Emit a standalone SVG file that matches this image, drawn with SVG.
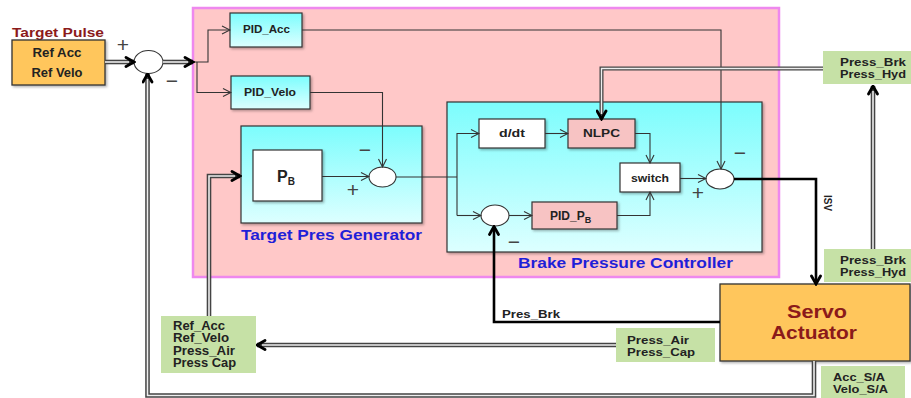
<svg xmlns="http://www.w3.org/2000/svg" width="911" height="398" viewBox="0 0 911 398">
<defs>
<linearGradient id="cyan" x1="0" y1="0" x2="0" y2="1">
<stop offset="0" stop-color="#7CFDFD"/>
<stop offset="1" stop-color="#DDFFFF"/>
</linearGradient>
<filter id="sh" x="-10%" y="-10%" width="130%" height="130%">
<feDropShadow dx="1.5" dy="1.5" stdDeviation="1" flood-color="#000" flood-opacity="0.3"/>
</filter>
<marker id="ah" viewBox="0 0 12 12" refX="10.5" refY="6" markerWidth="12" markerHeight="12" markerUnits="userSpaceOnUse" orient="auto">
<path d="M2.5,1.5 L10.5,6 L2.5,10.5" fill="none" stroke="#000" stroke-width="2.8" stroke-linecap="round"/>
</marker>
<marker id="at" viewBox="0 0 10 10" refX="9" refY="5" markerWidth="10" markerHeight="10" markerUnits="userSpaceOnUse" orient="auto">
<path d="M1,1 L9,5 L1,9" fill="none" stroke="#333" stroke-width="1.1"/>
</marker>
</defs>
<style>
text{font-family:"Liberation Sans",Arial,sans-serif;font-weight:bold;fill:#222}
.sm{font-size:11px}
.lb{font-size:12px}
.blue{font-size:15px;fill:#1F1FD8}
.red{fill:#8B1A1A}
.sign{font-weight:normal;font-size:21px;fill:#444;text-anchor:middle;dominant-baseline:central}
.mid{text-anchor:middle}
.cyan{fill:url(#cyan);stroke:#333;stroke-width:1.2}
.wht{fill:#fff;stroke:#333;stroke-width:1.2}
.pnk{fill:#F7C3C3;stroke:#333;stroke-width:1.2}
.grn{fill:#C6E1A6}
.org{fill:#FFC65C;stroke:#333;stroke-width:1.3}
.sum{fill:#fff;stroke:#333;stroke-width:1.1}
.thin{fill:none;stroke:#333;stroke-width:1.1}
.thick{fill:none;stroke:#000;stroke-width:2.6}
.dbo{fill:none;stroke:#444;stroke-width:4.6}
.dbi{fill:none;stroke:#EEE;stroke-width:1.6}
</style>

<g id="outer-box">
<rect x="193" y="8" width="586" height="269" fill="#FFC8C8" stroke="#EE88EE" stroke-width="2.5"/>
</g>

<g id="target-pulse">
<text x="12" y="36.5" font-size="13" class="red" textLength="92" lengthAdjust="spacingAndGlyphs">Target Pulse</text>
<rect x="12" y="40" width="93" height="45" class="org" filter="url(#sh)"/>
<text x="57" y="56.5" class="lb mid" textLength="49" lengthAdjust="spacingAndGlyphs">Ref Acc</text>
<text x="57" y="77" class="lb mid" textLength="51" lengthAdjust="spacingAndGlyphs">Ref Velo</text>
</g>

<g id="sum1">
<ellipse cx="148.5" cy="62" rx="14.5" ry="11.5" class="sum"/>
<text x="123" y="44" class="sign">+</text>
<text x="172" y="80" class="sign">−</text>
</g>

<g id="pid-acc">
<rect x="230" y="13" width="72" height="34" class="cyan" filter="url(#sh)"/>
<text x="266.5" y="33" class="sm mid" textLength="47" lengthAdjust="spacingAndGlyphs">PID_Acc</text>
</g>

<g id="pid-velo">
<rect x="231" y="76" width="79" height="33" class="cyan" filter="url(#sh)"/>
<text x="270" y="96" class="sm mid" textLength="52" lengthAdjust="spacingAndGlyphs">PID_Velo</text>
</g>

<g id="target-pres-generator">
<rect x="241" y="126" width="181" height="97" class="cyan" filter="url(#sh)"/>
<text x="241" y="240" class="blue" textLength="181" lengthAdjust="spacingAndGlyphs">Target Pres Generator</text>
</g>

<g id="pb">
<rect x="253" y="150" width="69" height="51" class="wht" filter="url(#sh)"/>
<text x="277" y="182" font-size="16">P<tspan font-size="10" dy="3">B</tspan></text>
</g>

<g id="sum2">
<ellipse cx="382.5" cy="177" rx="13.5" ry="10" class="sum"/>
<text x="353" y="189" class="sign">+</text>
<text x="365" y="149" class="sign">−</text>
</g>

<g id="brake-pressure-controller">
<rect x="447" y="102" width="315" height="150" class="cyan" filter="url(#sh)"/>
<text x="518" y="268" class="blue" textLength="215" lengthAdjust="spacingAndGlyphs">Brake Pressure Controller</text>
</g>

<g id="ddt">
<rect x="479" y="119" width="66" height="29" class="wht" filter="url(#sh)"/>
<text x="512" y="137" class="sm mid" textLength="26" lengthAdjust="spacingAndGlyphs">d/dt</text>
</g>

<g id="nlpc">
<rect x="568" y="119" width="67" height="29" class="pnk" filter="url(#sh)"/>
<text x="601.5" y="137" class="sm mid" textLength="37" lengthAdjust="spacingAndGlyphs">NLPC</text>
</g>

<g id="switch">
<rect x="620" y="163" width="60" height="29" class="wht" filter="url(#sh)"/>
<text x="650" y="182" class="sm mid" textLength="38" lengthAdjust="spacingAndGlyphs">switch</text>
</g>

<g id="pid-pb">
<rect x="532" y="202" width="85" height="27" class="pnk" filter="url(#sh)"/>
<text x="550" y="220" font-size="12">PID_P<tspan font-size="9" dy="3">B</tspan></text>
</g>

<g id="sum3">
<ellipse cx="495" cy="215.5" rx="14" ry="10.5" class="sum"/>
<text x="514" y="241" class="sign">−</text>
</g>

<g id="sum4">
<ellipse cx="720" cy="179" rx="14" ry="10" class="sum"/>
<text x="740" y="152" class="sign">−</text>
<text x="698" y="192" class="sign">+</text>
</g>

<g id="press-brk-hyd-top">
<rect x="823" y="51" width="88" height="33" class="grn"/>
<text x="840" y="66" class="sm" textLength="66" lengthAdjust="spacingAndGlyphs">Press_Brk</text>
<text x="840" y="77.5" class="sm" textLength="66" lengthAdjust="spacingAndGlyphs">Press_Hyd</text>
</g>

<g id="press-brk-hyd-bottom">
<rect x="824" y="249" width="87" height="33" class="grn"/>
<text x="840" y="264" class="sm" textLength="66" lengthAdjust="spacingAndGlyphs">Press_Brk</text>
<text x="840" y="276" class="sm" textLength="66" lengthAdjust="spacingAndGlyphs">Press_Hyd</text>
</g>

<g id="servo-actuator">
<rect x="720" y="284" width="190" height="77" class="org" filter="url(#sh)"/>
<text x="817" y="318" font-size="18" class="red mid" textLength="60" lengthAdjust="spacingAndGlyphs">Servo</text>
<text x="814" y="339" font-size="18" class="red mid" textLength="86" lengthAdjust="spacingAndGlyphs">Actuator</text>
</g>

<g id="acc-velo-sa">
<rect x="821" y="366" width="84" height="32" class="grn"/>
<text x="833" y="381" class="sm" textLength="52" lengthAdjust="spacingAndGlyphs">Acc_S/A</text>
<text x="833" y="393" class="sm" textLength="55" lengthAdjust="spacingAndGlyphs">Velo_S/A</text>
</g>

<g id="press-air-cap">
<rect x="616" y="328" width="99" height="34" class="grn"/>
<text x="627" y="344" class="sm" textLength="62" lengthAdjust="spacingAndGlyphs">Press_Air</text>
<text x="627" y="356" class="sm" textLength="68" lengthAdjust="spacingAndGlyphs">Press_Cap</text>
</g>

<g id="ref-inputs">
<rect x="161" y="316" width="95" height="57" class="grn"/>
<text x="173" y="329.5" class="lb" textLength="52" lengthAdjust="spacingAndGlyphs">Ref_Acc</text>
<text x="173" y="342" class="lb" textLength="56" lengthAdjust="spacingAndGlyphs">Ref_Velo</text>
<text x="173" y="354.5" class="lb" textLength="62" lengthAdjust="spacingAndGlyphs">Press_Air</text>
<text x="173" y="367" class="lb" textLength="63" lengthAdjust="spacingAndGlyphs">Press Cap</text>
</g>

<g id="connectors">
<path class="thin" d="M193,62 H208 V30 H230" marker-end="url(#at)"/>
<path class="thin" d="M197,62 V92.5 H231" marker-end="url(#at)"/>
<path class="thin" d="M302,30 H721 V169" marker-end="url(#at)"/>
<path class="thin" d="M310,92.5 H382.5 V167" marker-end="url(#at)"/>
<path class="thin" d="M322,176.5 H369" marker-end="url(#at)"/>
<path class="thin" d="M396,177 H457"/>
<path class="thin" d="M457,215.5 V133.5 H479" marker-end="url(#at)"/>
<path class="thin" d="M457,215.5 H481" marker-end="url(#at)"/>
<path class="thin" d="M545,133.5 H568" marker-end="url(#at)"/>
<path class="thin" d="M635,133.5 H650 V163" marker-end="url(#at)"/>
<path class="thin" d="M509,215.5 H532" marker-end="url(#at)"/>
<path class="thin" d="M617,215.5 H650 V192" marker-end="url(#at)"/>
<path class="thin" d="M680,178.5 H706" marker-end="url(#at)"/>

<path class="thick" d="M734,179 H816 V284" marker-end="url(#ah)"/>
<text x="827" y="203" font-size="10" class="mid" dominant-baseline="central" transform="rotate(90 827 203)">ISV</text>
<path class="thick" d="M720,322 H494 V226.5" marker-end="url(#ah)"/>
<text x="502" y="318" class="sm" textLength="58" lengthAdjust="spacingAndGlyphs">Pres_Brk</text>

<path class="dbo" d="M105,62 H134" marker-end="url(#ah)"/>
<path class="dbi" d="M105,62 H129"/>
<path class="dbo" d="M163,62 H193" marker-end="url(#ah)"/>
<path class="dbi" d="M163,62 H188"/>
<path class="dbo" d="M823,68.5 H601.5 V119" marker-end="url(#ah)" style="stroke-width:4"/>
<path class="dbi" d="M823,68.5 H601.5 V114" style="stroke-width:1.4"/>
<path class="dbo" d="M873,249 V86" marker-end="url(#ah)"/>
<path class="dbi" d="M873,249 V91"/>
<path class="dbo" d="M814,361 V395.5 H147.5 V74" marker-end="url(#ah)"/>
<path class="dbi" d="M814,361 V395.5 H147.5 V79"/>
<path class="dbo" d="M616,345 H257" marker-end="url(#ah)"/>
<path class="dbi" d="M616,345 H262"/>
<path class="dbo" d="M209,316 V176 H240" marker-end="url(#ah)"/>
<path class="dbi" d="M209,316 V176 H235"/>
</g>
</svg>
